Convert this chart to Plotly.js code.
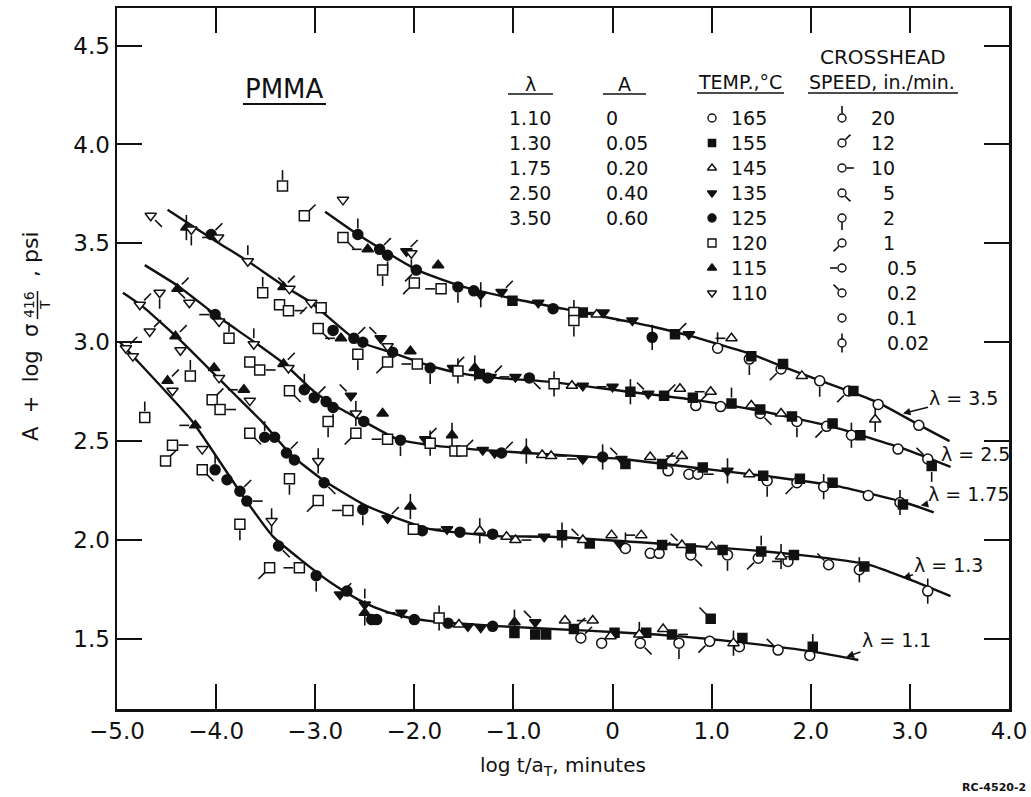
<!DOCTYPE html>
<html>
<head>
<meta charset="utf-8">
<script src="https://cdn.plot.ly/plotly-3.0.1.min.js"></script>
<style>html,body{margin:0;padding:0;background:#fff;}#chart{width:1031px;height:797px;}</style>
</head>
<body>
<div id="chart"></div>
<script>
// ---------------- DATA ----------------
// master curves
const curve35_x = [-2.90,-2.57,-1.97,-1.50,-1.00,-0.50,0.00,0.40,0.80,1.40,1.75,2.40,2.70,3.10,3.40];
const curve35_y = [3.66,3.545,3.365,3.28,3.22,3.17,3.12,3.08,3.03,2.94,2.87,2.75,2.69,2.58,2.50];
const curve25_x = [-4.49,-4.00,-3.68,-3.30,-3.04,-2.57,-2.24,-1.84,-1.50,-1.17,-0.62,0.16,0.81,1.52,2.24,2.95,3.41];
const curve25_y = [3.67,3.51,3.41,3.28,3.20,3.005,2.95,2.88,2.84,2.82,2.80,2.75,2.71,2.65,2.57,2.46,2.37];
const curve175_x = [-4.72,-4.37,-4.01,-3.61,-3.31,-3.01,-2.77,-2.51,-2.17,-1.84,-1.17,-0.62,0.09,0.81,1.52,2.24,2.95,3.24];
const curve175_y = [3.39,3.28,3.14,3.00,2.89,2.75,2.67,2.60,2.51,2.48,2.45,2.433,2.41,2.367,2.325,2.275,2.19,2.14];
const curve13_x = [-4.94,-4.74,-4.34,-3.84,-3.54,-3.24,-2.91,-2.51,-2.17,-1.84,-1.17,-0.62,0.45,1.16,1.88,2.59,2.95,3.41];
const curve13_y = [3.25,3.18,3.00,2.75,2.60,2.43,2.30,2.18,2.11,2.055,2.02,2.017,1.983,1.958,1.925,1.875,1.81,1.717];
const curve11_x = [-4.97,-4.84,-4.24,-3.74,-3.43,-3.17,-2.83,-2.57,-2.40,-2.16,-1.83,-1.16,-0.26,0.44,0.98,1.51,2.04,2.48];
const curve11_y = [3.00,2.93,2.60,2.23,2.02,1.91,1.78,1.70,1.66,1.62,1.59,1.565,1.542,1.523,1.50,1.47,1.435,1.394];

// measured points: x, y, temperature (°C), crosshead speed (in./min)
const pts35_x = [-3.33,-3.11,-2.72,-2.72,-2.57,-2.47,-2.35,-2.27,-2.32,-2.08,-2.03,-1.98,-2.00,-1.76,-1.73,-1.56,-1.33,-1.40,-1.12,-1.01,-0.75,-0.60,-0.39,-0.39,-0.30,-0.16,-0.09,0.20,0.40,0.63,0.77,1.06,1.20,1.38,1.40,1.70,1.72,1.91,2.09,2.38,2.43,2.65,2.68,3.09];
const pts35_y = [3.79,3.64,3.72,3.53,3.545,3.47,3.47,3.44,3.365,3.46,3.45,3.365,3.30,3.39,3.27,3.28,3.24,3.26,3.254,3.21,3.20,3.17,3.15,3.11,3.15,3.14,3.15,3.11,3.025,3.04,3.04,2.97,3.02,2.915,2.93,2.865,2.89,2.83,2.805,2.754,2.754,2.61,2.686,2.58];
const pts35_temp = [120,120,110,120,125,115,125,125,120,135,110,125,120,115,120,125,135,125,135,155,135,125,120,120,155,145,135,135,125,155,135,165,145,165,155,165,155,145,165,165,155,145,165,165];
const pts35_speed = [20,12,0.1,5,20,0.5,12,2,2,12,2,1,1,0.1,0.5,2,0.02,0.1,12,0.1,0.1,0.1,0.02,2,0.1,0.1,0.5,0.5,0.02,12,0.1,20,0.5,2,0.1,1,0.1,0.1,2,1,0.1,0.02,0.1,0.1];

const pts25_x = [-4.66,-4.30,-4.25,-4.05,-3.98,-3.68,-3.53,-3.36,-3.27,-3.32,-3.26,-3.04,-2.94,-2.97,-2.82,-2.74,-2.61,-2.52,-2.57,-2.34,-2.27,-2.22,-2.27,-2.04,-1.97,-1.84,-1.61,-1.56,-1.39,-1.26,-1.34,-1.23,-0.98,-0.84,-0.59,-0.41,-0.30,0.00,0.18,0.36,0.52,0.68,0.81,0.84,0.99,1.09,1.20,1.40,1.49,1.49,1.70,1.81,1.86,2.16,2.22,2.41,2.50,2.88,3.18,3.22];
const pts25_y = [3.64,3.58,3.57,3.545,3.53,3.41,3.25,3.19,3.16,3.28,3.27,3.20,3.175,3.07,3.06,3.02,3.02,3.00,2.94,3.02,2.98,2.95,2.90,2.955,2.89,2.87,2.87,2.855,2.87,2.82,2.84,2.825,2.825,2.82,2.79,2.78,2.78,2.775,2.75,2.74,2.73,2.765,2.72,2.68,2.75,2.675,2.69,2.68,2.66,2.64,2.64,2.625,2.60,2.575,2.59,2.53,2.53,2.46,2.41,2.375];
const pts25_temp = [110,115,110,125,110,110,120,120,120,115,110,110,120,120,125,115,125,125,120,135,110,125,120,115,120,125,135,120,115,125,155,135,135,125,120,145,135,135,155,135,155,145,155,165,145,165,155,145,155,165,145,155,165,165,155,165,155,165,165,155];
const pts25_speed = [5,0.02,2,12,0.5,20,20,0.1,10,12,0.2,1,0.1,5,0.1,0.5,12,0.1,2,0.2,0.1,0.1,1,0.1,0.5,2,12,0.02,0.02,0.1,0.1,12,0.5,5,0.02,0.1,0.1,0.5,0.02,0.2,12,0.1,0.1,12,0.5,0.1,20,0.1,0.1,5,0.1,0.1,2,1,0.1,0.02,0.1,0.1,0.2,2];

const pts175_x = [-4.57,-4.39,-4.27,-4.01,-3.97,-3.87,-3.62,-3.66,-3.56,-3.32,-3.27,-3.26,-3.11,-3.01,-2.89,-2.82,-2.87,-2.64,-2.59,-2.51,-2.59,-2.32,-2.27,-2.14,-1.89,-1.84,-1.62,-1.59,-1.52,-1.31,-1.19,-1.12,-0.87,-0.71,-0.62,-0.30,-0.10,0.09,0.13,0.38,0.50,0.56,0.70,0.77,0.86,0.91,1.16,1.38,1.52,1.56,1.86,1.89,2.13,2.22,2.58,2.90,2.93];
const pts175_y = [3.25,3.27,3.20,3.14,3.105,3.02,2.99,2.90,2.86,2.89,2.87,2.755,2.76,2.72,2.70,2.67,2.60,2.73,2.64,2.60,2.54,2.64,2.51,2.505,2.51,2.49,2.53,2.45,2.45,2.455,2.44,2.44,2.45,2.43,2.425,2.41,2.42,2.41,2.385,2.42,2.385,2.35,2.425,2.333,2.333,2.367,2.35,2.333,2.325,2.30,2.29,2.31,2.27,2.29,2.225,2.19,2.18];
const pts175_temp = [110,115,110,125,110,120,110,120,120,115,110,120,125,125,125,125,120,135,110,125,120,115,120,125,135,120,115,120,120,135,135,125,115,145,145,135,125,135,155,145,155,165,145,165,165,155,135,145,155,165,165,155,165,155,165,165,155];
const pts175_speed = [2,12,0.2,0.5,0.2,20,20,0.1,10,12,0.1,5,20,12,0.1,2,2,0.2,0.02,0.1,1,0.1,0.5,2,12,0.02,0.02,0.1,12,0.1,0.1,12,0.02,0.1,10,0.5,0.02,0.2,0.1,0.1,12,12,0.5,0.1,10,0.1,0.02,0.1,0.1,2,1,0.1,0.02,0.1,0.1,0.02,0.1];

const pts13_x = [-4.77,-4.67,-4.41,-4.36,-4.26,-4.02,-3.97,-4.04,-3.96,-3.72,-3.66,-3.66,-3.51,-3.41,-3.29,-3.21,-3.26,-2.97,-2.91,-2.97,-2.67,-2.52,-2.27,-2.04,-2.01,-1.92,-1.67,-1.54,-1.34,-1.21,-1.07,-0.98,-0.69,-0.51,-0.30,-0.23,-0.01,0.07,0.13,0.29,0.38,0.47,0.50,0.70,0.79,0.79,1.00,1.11,1.16,1.47,1.50,1.70,1.77,1.83,2.18,2.49,2.54,3.18];
const pts13_y = [3.19,3.055,3.03,2.96,2.83,2.87,2.82,2.71,2.66,2.76,2.705,2.54,2.52,2.52,2.44,2.405,2.31,2.40,2.29,2.20,2.15,2.155,2.11,2.17,2.055,2.047,2.055,2.04,2.047,2.03,2.017,2.00,2.017,2.025,2.00,1.983,2.025,1.983,1.958,2.025,1.933,1.933,1.975,1.975,1.958,1.925,1.967,1.95,1.925,1.908,1.942,1.917,1.892,1.925,1.875,1.85,1.867,1.742];
const pts13_temp = [110,110,115,110,120,115,110,120,120,115,110,120,125,125,125,125,120,110,125,120,120,125,135,115,120,125,135,125,145,125,145,145,135,155,145,155,145,135,165,145,165,165,155,145,155,165,145,155,165,165,155,145,165,155,165,165,155,165];
const pts13_speed = [12,12,12,0.1,20,0.1,0.1,12,10,0.5,0.1,5,20,0.1,12,0.1,2,0.02,5,1,0.5,2,12,0.02,0.1,0.1,0.5,0.1,0.02,0.1,0.1,10,0.5,0.02,0.2,0.1,0.1,0.1,20,0.5,0.1,12,0.1,0.2,0.1,5,0.1,0.1,2,1,20,0.02,0.5,0.1,0.2,0.02,0.1,0.02];

const pts11_x = [-4.91,-4.84,-4.72,-4.49,-4.44,-4.44,-4.51,-4.21,-4.14,-4.14,-4.01,-3.89,-3.76,-3.69,-3.76,-3.44,-3.37,-3.46,-3.16,-2.99,-2.75,-2.68,-2.50,-2.50,-2.43,-2.38,-2.13,-2.00,-1.75,-1.66,-1.55,-1.46,-1.21,-1.33,-0.99,-0.99,-0.78,-0.78,-0.67,-0.48,-0.39,-0.32,-0.20,-0.11,-0.02,0.02,0.27,0.28,0.34,0.51,0.60,0.67,0.99,0.98,1.22,1.28,1.31,1.67,1.99,2.02];
const pts11_y = [2.97,2.93,2.62,2.805,2.755,2.48,2.40,2.58,2.46,2.355,2.355,2.305,2.247,2.197,2.08,2.097,1.97,1.86,1.86,1.82,1.725,1.742,1.674,1.632,1.598,1.598,1.632,1.598,1.606,1.58,1.573,1.564,1.564,1.558,1.585,1.53,1.585,1.523,1.523,1.593,1.55,1.505,1.593,1.479,1.514,1.532,1.523,1.479,1.532,1.55,1.523,1.479,1.602,1.488,1.479,1.461,1.505,1.444,1.417,1.461];
const pts11_temp = [110,110,120,115,110,120,120,115,110,120,125,125,125,125,120,110,125,120,120,125,135,125,135,115,125,125,135,125,120,125,145,135,125,135,115,155,135,155,155,145,155,165,145,165,145,155,145,165,155,145,155,165,155,165,145,165,155,165,165,155];
const pts11_speed = [12,0.1,20,12,0.1,10,12,0.5,0.1,5,20,0.1,12,10,2,0.02,5,1,0.5,2,12,0.1,20,0.02,0.1,0.1,0.5,0.1,0.02,0.1,0.1,0.5,0.1,0.1,0.02,0.1,0.2,0.1,0.1,0.1,12,12,0.5,0.1,0.1,0.1,0.02,5,0.1,0.1,10,2,0.2,1,0.02,0.1,0.1,0.2,0.1,0.02];

// legend table
const lambdaVals = ['1.10','1.30','1.75','2.50','3.50'];
const aVals = ['0','0.05','0.20','0.40','0.60'];
const tempVals = [165,155,145,135,125,120,115,110];
const speedVals = ['20','12','10','5','2','1','0.5','0.2','0.1','0.02'];
const curveLabels = ['λ = 3.5','λ = 2.5','λ = 1.75','λ = 1.3','λ = 1.1'];

const xTickVals = [-5,-4,-3,-2,-1,0,1,2,3,4];
const xTickText = ['\u22125.0','\u22124.0','\u22123.0','\u22122.0','\u22121.0','0','1.0','2.0','3.0','4.0'];
const yTickVals = [1.5,2.0,2.5,3.0,3.5,4.0,4.5];
const yTickText = ['1.5','2.0','2.5','3.0','3.5','4.0','4.5'];

// ---------------- STYLE ----------------
const INK = '#111';
const FONT = 'DejaVu Sans, Liberation Sans, sans-serif';
const TEMP_STYLE = {
  165:{symbol:'circle', fill:'#fff', size:10},
  155:{symbol:'square', fill:INK, size:9},
  145:{symbol:'triangle-up', fill:'#fff', size:10},
  135:{symbol:'triangle-down', fill:INK, size:10},
  125:{symbol:'circle', fill:INK, size:10},
  120:{symbol:'square', fill:'#fff', size:10},
  115:{symbol:'triangle-up', fill:INK, size:10},
  110:{symbol:'triangle-down', fill:'#fff', size:10}
};
// tail direction for each crosshead speed (Plotly marker angle; standoff pushes along it)
const TAIL_ANGLE = {'20':180,'12':225,'10':270,'5':315,'2':0,'1':45,'0.5':90,'0.2':135};

const sets = [
  {x:pts35_x,y:pts35_y,t:pts35_temp,v:pts35_speed},
  {x:pts25_x,y:pts25_y,t:pts25_temp,v:pts25_speed},
  {x:pts175_x,y:pts175_y,t:pts175_temp,v:pts175_speed},
  {x:pts13_x,y:pts13_y,t:pts13_temp,v:pts13_speed},
  {x:pts11_x,y:pts11_y,t:pts11_temp,v:pts11_speed}
];
const curves = [[curve35_x,curve35_y],[curve25_x,curve25_y],[curve175_x,curve175_y],[curve13_x,curve13_y],[curve11_x,curve11_y]];

const traces = [];
curves.forEach(c => traces.push({x:c[0], y:c[1], mode:'lines', hoverinfo:'skip',
  line:{color:INK, width:2.4, shape:'spline', smoothing:0.5}}));

function tailTraces(xs, ys, vs, xa, ya, k) {
  const ox=[],oy=[],oa=[],vx=[],vy=[];
  for (let i=0;i<xs.length;i++) {
    const key = String(vs[i]);
    if (key in TAIL_ANGLE) { ox.push(xs[i]); oy.push(ys[i]); oa.push(TAIL_ANGLE[key]); }
    else if (key === '0.02') { vx.push(xs[i]); vy.push(ys[i]); }
  }
  traces.push({x:ox,y:oy,xaxis:xa,yaxis:ya,mode:'markers',hoverinfo:'skip',
    marker:{symbol:'line-ns',size:7*k,angle:oa,standoff:11*k,color:INK,line:{color:INK,width:1.6}}});
  traces.push({x:vx,y:vy,xaxis:xa,yaxis:ya,mode:'markers',hoverinfo:'skip',
    marker:{symbol:'line-ns',size:18*k,color:INK,line:{color:INK,width:1.6}}});
}
let allX=[],allY=[],allV=[];
sets.forEach(s => { allX=allX.concat(s.x); allY=allY.concat(s.y); allV=allV.concat(s.v); });
tailTraces(allX, allY, allV, 'x', 'y', 1);

tempVals.forEach(T => {
  const st = TEMP_STYLE[T]; const gx=[], gy=[];
  sets.forEach(s => s.t.forEach((t,i) => { if (t===T) { gx.push(s.x[i]); gy.push(s.y[i]); } }));
  traces.push({x:gx,y:gy,mode:'markers',hoverinfo:'skip',
    marker:{symbol:st.symbol,size:st.size,color:st.fill,line:{color:INK,width:1.5}}});
});

// ---------- legend table (pixel-space overlay axes) ----------
const ROW0 = 118, ROWH = 25;
tempVals.forEach((T,i) => {
  const st = TEMP_STYLE[T];
  traces.push({x:[712],y:[ROW0+i*ROWH],xaxis:'x2',yaxis:'y2',mode:'markers',hoverinfo:'skip',
    marker:{symbol:st.symbol,size:st.size*0.8,color:st.fill,line:{color:INK,width:1.4}}});
});
const spX = speedVals.map(()=>842), spY = speedVals.map((s,i)=>ROW0+i*ROWH);
tailTraces(spX, spY, speedVals.map(Number), 'x2', 'y2', 0.75);
traces.push({x:spX,y:spY,xaxis:'x2',yaxis:'y2',mode:'markers',hoverinfo:'skip',
  marker:{symbol:'circle',size:8,color:'#fff',line:{color:INK,width:1.4}}});

// ---------------- LAYOUT ----------------
const PL=117, PR=1009, PT=8, PB=709;
const px = p => (p-PL)/(PR-PL);
const py = p => (PB-p)/(PB-PT);
const ann = [];
function txt(text, x, y, size, extra) {
  ann.push(Object.assign({text:text, xref:'paper', yref:'paper', x:px(x), y:py(y), showarrow:false,
    xanchor:'center', yanchor:'middle', font:{family:FONT, size:size, color:INK}}, extra||{}));
}
const shapes = [];
function hline(x0,x1,y,w) { shapes.push({type:'line',xref:'paper',yref:'paper',x0:px(x0),x1:px(x1),y0:py(y),y1:py(y),line:{color:INK,width:w||1.6}}); }

txt('PMMA', 284, 89, 26); hline(243, 326, 104, 2);
txt('λ', 530, 84, 19); hline(508, 553, 94);
txt('A', 624, 84, 19); hline(603, 646, 94);
txt('TEMP.,°C', 740, 82, 19); hline(697, 784, 93);
txt('CROSSHEAD', 883, 57, 20);
txt('SPEED, in./min.', 882, 82, 19); hline(808, 958, 93);
lambdaVals.forEach((v,i) => txt(v, 530, ROW0+i*ROWH, 19));
aVals.forEach((v,i) => txt(v, 604, ROW0+i*ROWH, 19, {xanchor:'left'}));
tempVals.forEach((v,i) => txt(String(v), 729, ROW0+i*ROWH, 19, {xanchor:'left'}));
speedVals.forEach((v,i) => {
  const dot = v.indexOf('.');
  if (dot < 0) txt(v, 897, ROW0+i*ROWH, 19, {xanchor:'right'});
  else txt(v, 885, ROW0+i*ROWH, 19, {xanchor:'left'});
});

// curve labels: arrow tip on curve (data units), text offset in px
const labelTip = [[2.93,2.64,61,-15],[3.66,2.433,0,0],[3.11,2.175,48,-11],[2.93,1.81,46,-13],[2.36,1.41,50,-17]];
curveLabels.forEach((t,i) => {
  const L = labelTip[i];
  const a = {text:t, xref:'x', yref:'y', x:L[0], y:L[1], font:{family:FONT, size:19, color:INK}};
  if (L[2] !== 0) Object.assign(a, {showarrow:true, ax:L[2], ay:L[3], arrowhead:2, arrowsize:1,
    arrowwidth:1.5, arrowcolor:INK, standoff:0});
  else a.showarrow = false;
  ann.push(a);
});

// axis titles
txt('log t/a<sub>T</sub>, minutes', 563, 766, 20);
txt('A\u00a0\u00a0+\u00a0\u00a0log\u00a0\u00a0σ', 31, 383, 21, {textangle:-90});
txt('416', 29, 305, 14, {textangle:-90});
txt('T', 45, 305, 14, {textangle:-90});
shapes.push({type:'line',xref:'paper',yref:'paper',x0:px(37.5),x1:px(37.5),y0:py(291),y1:py(319),line:{color:INK,width:1.5}});
txt(',\u00a0psi', 31, 254, 22, {textangle:-90});
txt('<b>RC-4520-2</b>', 1028, 787, 11, {xanchor:'right'});

const axisCommon = {ticks:'inside', ticklen:25, tickwidth:2, tickcolor:INK, showline:true, linewidth:2.5,
  linecolor:INK, mirror:'allticks', showgrid:false, zeroline:false, tickfont:{family:FONT,size:23,color:INK}};

const layout = {
  width:1031, height:797, margin:{l:PL, r:1031-PR, t:PT, b:797-PB},
  paper_bgcolor:'#fff', plot_bgcolor:'#fff', showlegend:false,
  font:{family:FONT, color:INK},
  xaxis:Object.assign({range:[-5,4], tickmode:'array', tickvals:xTickVals, ticktext:xTickText}, axisCommon),
  yaxis:Object.assign({range:[1.146,4.69], tickmode:'array', tickvals:yTickVals, ticktext:yTickText}, axisCommon),
  xaxis2:{range:[PL,PR], overlaying:'x', visible:false, fixedrange:true},
  yaxis2:{range:[PB,PT], overlaying:'y', visible:false, fixedrange:true},
  annotations:ann, shapes:shapes
};
Plotly.newPlot('chart', traces, layout, {staticPlot:true, displayModeBar:false});
</script>
</body>
</html>
